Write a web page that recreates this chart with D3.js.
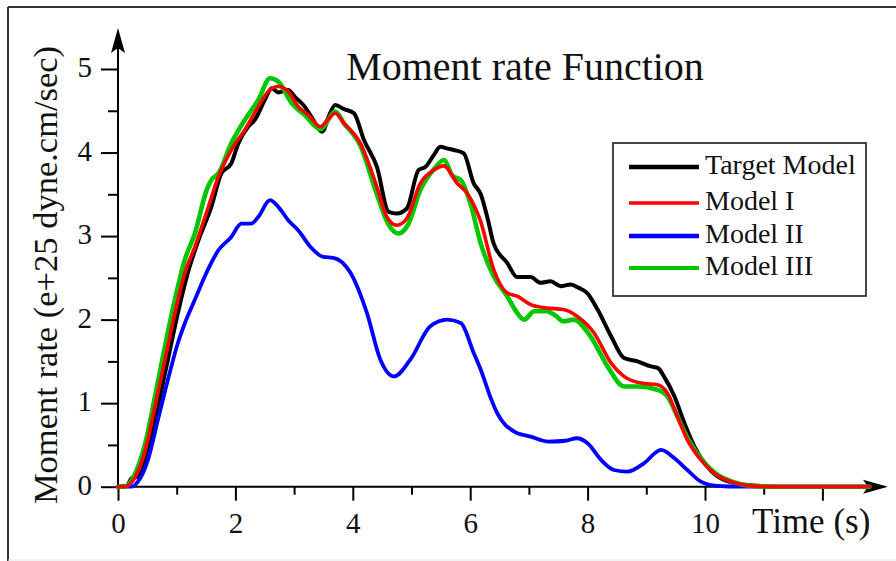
<!DOCTYPE html>
<html>
<head>
<meta charset="utf-8">
<script src="https://cdn.jsdelivr.net/npm/d3@7"></script>
<style>
  html, body { margin: 0; padding: 0; background: #fff; }
  svg { display: block; }
  text { font-family: "Liberation Serif", "Times New Roman", serif; fill: #111; }
</style>
</head>
<body>
<svg id="chart" width="896" height="561"></svg>
<script>
// ---------- data ----------
const titleText = "Moment rate Function";
const xAxisLabel = "Time (s)";
const yAxisLabel = "Moment rate (e+25 dyne.cm/sec)";
const xMajorTicks = [0, 2, 4, 6, 8, 10, 12];
const xMinorTicks = [1, 3, 5, 7, 9, 11];
const xTickLabels = ["0", "2", "4", "6", "8", "10", ""];
const yMajorTicks = [0, 1, 2, 3, 4, 5];
const yMinorTicks = [0.5, 1.5, 2.5, 3.5, 4.5];
const seriesNames = ["Target Model", "Model I", "Model II", "Model III"];
const seriesColors = ["#000000", "#ff0000", "#0000ff", "#00c800"];

const targetModel = [[0,0],[0.15,0.01],[0.23,0.10],[0.34,0.12],[0.51,0.40],[0.68,0.96],[0.85,1.52],[1.02,2.08],[1.19,2.56],[1.37,2.95],[1.59,3.35],[1.76,3.75],[1.93,3.87],[2.05,4.11],[2.22,4.31],[2.33,4.39],[2.50,4.63],[2.62,4.77],[2.73,4.72],[2.90,4.75],[3.01,4.67],[3.18,4.55],[3.30,4.42],[3.48,4.25],[3.60,4.45],[3.70,4.57],[3.85,4.52],[4.02,4.47],[4.19,4.15],[4.41,3.83],[4.61,3.29],[4.75,3.27],[4.92,3.33],[5.12,3.79],[5.24,3.83],[5.38,3.97],[5.49,4.07],[5.60,4.05],[5.72,4.03],[5.89,3.99],[6.06,3.63],[6.18,3.50],[6.30,3.20],[6.40,2.91],[6.63,2.68],[6.80,2.51],[7.03,2.51],[7.20,2.44],[7.37,2.46],[7.54,2.40],[7.71,2.42],[7.85,2.38],[7.99,2.32],[8.17,2.12],[8.40,1.80],[8.62,1.54],[8.85,1.50],[9.08,1.44],[9.20,1.42],[9.30,1.32],[9.48,1.08],[9.65,0.76],[9.82,0.48],[10.04,0.24],[10.27,0.10],[10.61,0.03],[10.9,0.01],[11.3,0],[12.8,0]];

const modelI = [[0,0],[0.11,0],[0.28,0.10],[0.45,0.40],[0.63,0.96],[0.80,1.52],[0.97,2.08],[1.14,2.56],[1.31,2.87],[1.54,3.35],[1.71,3.71],[1.93,4.03],[2.16,4.27],[2.39,4.55],[2.56,4.73],[2.73,4.79],[2.90,4.73],[3.07,4.55],[3.24,4.45],[3.45,4.31],[3.58,4.40],[3.70,4.47],[3.85,4.35],[4.13,4.11],[4.41,3.59],[4.58,3.23],[4.75,3.13],[4.92,3.21],[5.15,3.63],[5.38,3.79],[5.55,3.84],[5.78,3.63],[5.95,3.51],[6.18,3.17],[6.40,2.60],[6.63,2.32],[6.80,2.28],[7.03,2.18],[7.30,2.14],[7.59,2.12],[7.82,2.04],[8.11,1.84],[8.40,1.48],[8.62,1.32],[8.91,1.24],[9.19,1.22],[9.36,1.12],[9.53,0.84],[9.70,0.56],[9.93,0.32],[10.16,0.16],[10.44,0.06],[10.78,0.01],[11.2,0],[12.8,0]];

const modelII = [[0,0],[0.23,0],[0.34,0.06],[0.51,0.32],[0.68,0.80],[0.85,1.28],[1.02,1.72],[1.14,1.96],[1.31,2.24],[1.48,2.52],[1.71,2.83],[1.93,2.99],[2.10,3.15],[2.27,3.15],[2.39,3.23],[2.59,3.43],[2.73,3.35],[2.90,3.19],[3.07,3.07],[3.28,2.87],[3.50,2.75],[3.67,2.74],[3.96,2.56],[4.24,2.08],[4.47,1.52],[4.70,1.32],[4.98,1.52],[5.32,1.92],[5.61,2.00],[5.84,1.96],[6.06,1.60],[6.18,1.40],[6.35,1.06],[6.46,0.88],[6.75,0.66],[7.03,0.60],[7.33,0.54],[7.62,0.55],[7.82,0.58],[8.0,0.52],[8.23,0.32],[8.45,0.20],[8.68,0.18],[8.96,0.28],[9.25,0.44],[9.48,0.34],[9.70,0.20],[9.93,0.06],[10.2,0.01],[10.6,0],[12.8,0]];

const modelIII = [[0,0],[0.11,0],[0.28,0.14],[0.45,0.48],[0.63,1.08],[0.80,1.68],[0.97,2.24],[1.14,2.72],[1.31,3.03],[1.51,3.55],[1.59,3.67],[1.71,3.75],[1.93,4.11],[2.16,4.39],[2.39,4.63],[2.59,4.89],[2.73,4.85],[2.96,4.59],[3.18,4.45],[3.45,4.28],[3.70,4.49],[3.85,4.35],[4.13,4.08],[4.41,3.50],[4.60,3.15],[4.78,3.03],[4.95,3.15],[5.15,3.55],[5.38,3.80],[5.55,3.91],[5.70,3.72],[5.84,3.67],[6.0,3.40],[6.18,2.91],[6.40,2.52],[6.63,2.28],[6.80,2.08],[6.92,2.00],[7.09,2.10],[7.30,2.10],[7.45,2.05],[7.59,1.98],[7.76,2.00],[8.05,1.80],[8.34,1.44],[8.62,1.20],[8.85,1.20],[9.19,1.16],[9.36,1.08],[9.53,0.84],[9.72,0.56],[9.95,0.32],[10.18,0.16],[10.46,0.06],[10.8,0.01],[11.2,0],[12.8,0]];

// ---------- chart ----------
const svg = d3.select("#chart");
const x = d3.scaleLinear().domain([0, 12]).range([118, 822.4]);
const y = d3.scaleLinear().domain([0, 5]).range([486.7, 69]);
const serif = '"Liberation Serif", "Times New Roman", serif';

// outer frame
svg.append("line").attr("x1", 8).attr("y1", 7).attr("x2", 896).attr("y2", 7).attr("stroke", "#333").attr("stroke-width", 2);
svg.append("line").attr("x1", 8).attr("y1", 7).attr("x2", 8).attr("y2", 561).attr("stroke", "#333").attr("stroke-width", 2);
svg.append("line").attr("x1", 8).attr("y1", 560).attr("x2", 896).attr("y2", 560).attr("stroke", "#e4e4e4").attr("stroke-width", 1);

// x axis ticks
const xAxisMajor = d3.axisBottom(x).tickValues(xMajorTicks).tickSize(14).tickPadding(0)
  .tickFormat((d, i) => xTickLabels[i]);
const gx = svg.append("g").attr("transform", `translate(0,${y(0)})`).call(xAxisMajor);
gx.select(".domain").remove();
gx.selectAll(".tick line").attr("stroke", "#000").attr("stroke-width", 2);
gx.selectAll(".tick text").attr("font-size", 29).attr("dy", null).attr("y", 46).attr("fill", "#111")
  .style("font-family", serif);
const xAxisMinor = d3.axisBottom(x).tickValues(xMinorTicks).tickSize(8).tickFormat("");
const gxm = svg.append("g").attr("transform", `translate(0,${y(0)})`).call(xAxisMinor);
gxm.select(".domain").remove();
gxm.selectAll(".tick line").attr("stroke", "#000").attr("stroke-width", 2);

// y axis ticks
const yAxisMajor = d3.axisLeft(y).tickValues(yMajorTicks).tickSize(17).tickPadding(0).tickFormat(d3.format("d"));
const gy = svg.append("g").attr("transform", `translate(${x(0)},0)`).call(yAxisMajor);
gy.select(".domain").remove();
gy.selectAll(".tick line").attr("stroke", "#000").attr("stroke-width", 2);
gy.selectAll(".tick text").attr("font-size", 29).attr("x", -26).attr("dy", 7.5).attr("fill", "#111")
  .style("font-family", serif);
const yAxisMinor = d3.axisLeft(y).tickValues(yMinorTicks).tickSize(10).tickFormat("");
const gym = svg.append("g").attr("transform", `translate(${x(0)},0)`).call(yAxisMinor);
gym.select(".domain").remove();
gym.selectAll(".tick line").attr("stroke", "#000").attr("stroke-width", 2);

// axis lines with arrows
const x0 = x(0), y0 = y(0);
svg.append("line").attr("x1", x0).attr("y1", y0).attr("x2", 875).attr("y2", y0).attr("stroke", "#000").attr("stroke-width", 2);
svg.append("line").attr("x1", x0).attr("y1", y0).attr("x2", x0).attr("y2", 40).attr("stroke", "#000").attr("stroke-width", 2);
svg.append("path").attr("d", `M888,${y0} L863,${y0 - 7} L868,${y0} L863,${y0 + 7} Z`).attr("fill", "#000");
svg.append("path").attr("d", `M${x0},28 L${x0 + 7},53 L${x0},48 L${x0 - 7},53 Z`).attr("fill", "#000");

// series lines
const line = d3.line().x(d => x(d[0])).y(d => y(d[1])).curve(d3.curveMonotoneX);
const drawOrder = [
  { data: targetModel, color: seriesColors[0], w: 4 },
  { data: modelII, color: seriesColors[2], w: 3.8 },
  { data: modelIII, color: seriesColors[3], w: 4.6 },
  { data: modelI, color: seriesColors[1], w: 3.6 }
];
drawOrder.forEach(s => {
  svg.append("path").datum(s.data).attr("d", line).attr("fill", "none")
    .attr("stroke", s.color).attr("stroke-width", s.w)
    .attr("stroke-linejoin", "round").attr("stroke-linecap", "round");
});

// title
svg.append("text").attr("x", 525).attr("y", 80).attr("text-anchor", "middle")
  .attr("font-size", 40).text(titleText);

// axis labels
svg.append("text").attr("x", 752).attr("y", 533).attr("font-size", 35).text(xAxisLabel);
svg.append("text").attr("transform", "translate(57,275) rotate(-90)").attr("text-anchor", "middle")
  .attr("font-size", 34.5).text(yAxisLabel);

// legend
const legend = svg.append("g");
legend.append("rect").attr("x", 613).attr("y", 143).attr("width", 253).attr("height", 153)
  .attr("fill", "#fff").attr("stroke", "#333").attr("stroke-width", 1.8);
const legendRowsY = [167, 203, 236, 268];
const legendWidths = [4.5, 3.5, 4.5, 4];
seriesNames.forEach((name, i) => {
  legend.append("line").attr("x1", 629).attr("x2", 699).attr("y1", legendRowsY[i]).attr("y2", legendRowsY[i])
    .attr("stroke", seriesColors[i]).attr("stroke-width", legendWidths[i]);
  legend.append("text").attr("x", 705).attr("y", legendRowsY[i] + 7).attr("font-size", 28).text(name);
});
</script>
</body>
</html>
